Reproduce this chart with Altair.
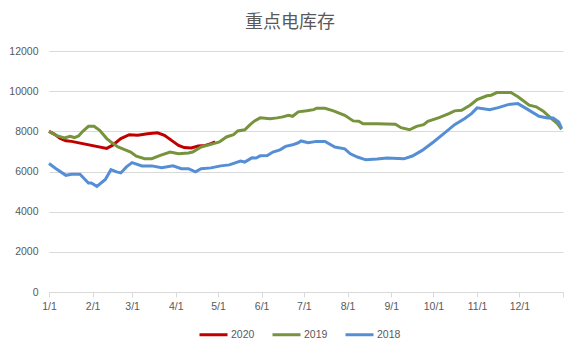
import altair as alt
import pandas as pd

# ---- data (day of year index, value) ----
days_2020 = [0, 4, 8, 12, 16, 41, 45, 51, 57, 63, 70, 77, 82, 87, 92, 96, 101, 106, 111, 115, 118]
vals_2020 = [8000, 7850, 7650, 7530, 7500, 7150, 7300, 7640, 7830, 7800, 7880, 7930, 7800, 7550,
             7300, 7190, 7170, 7270, 7300, 7390, 7480]

days_2019 = [0, 6, 11, 15, 18, 21, 24, 28, 32, 36, 41, 44, 49, 55, 58, 62, 68, 73, 79, 86,
             92, 99, 102, 108, 115, 121, 126, 131, 134, 139, 143, 146, 150, 157, 162, 166, 170, 173, 177, 183,
             188, 190, 196, 202, 210, 216, 220, 223, 233, 246, 250, 256, 261, 266, 269, 277, 284, 288, 293, 299,
             304, 311, 314, 318, 328, 333, 341, 346, 351, 356, 361, 364]
vals_2019 = [8000, 7770, 7670, 7750, 7690, 7770, 8000, 8250, 8250, 8050, 7640, 7470, 7220, 7050, 6970, 6760,
             6640, 6640, 6800, 6970, 6890, 6920, 6970, 7220, 7350, 7470, 7720, 7830, 8020, 8080, 8350, 8520,
             8670, 8630, 8670, 8720, 8800, 8750, 8970, 9020, 9080, 9150, 9150, 9020, 8800, 8520, 8500, 8380,
             8380, 8350, 8180, 8080, 8250, 8330, 8500, 8680, 8880, 9020, 9050, 9300, 9580, 9770, 9800, 9930,
             9930, 9720, 9300, 9220, 9000, 8680, 8380, 8100]

days_2018 = [0, 5, 12, 16, 22, 28, 30, 34, 40, 44, 48, 51, 55, 59, 66, 73, 80, 88, 94, 99,
             104, 108, 115, 122, 128, 136, 139, 144, 147, 150, 155, 159, 164, 168, 173, 177, 179, 184, 190, 196,
             203, 210, 214, 219, 225, 233, 240, 252, 258, 265, 273, 281, 288, 295, 300, 304, 313, 319, 326, 333,
             339, 348, 354, 358, 362, 364]
vals_2018 = [6400, 6140, 5810, 5860, 5860, 5430, 5430, 5260, 5600, 6090, 5980, 5930, 6230, 6440, 6280, 6280,
             6190, 6280, 6140, 6140, 5980, 6140, 6180, 6280, 6330, 6520, 6470, 6680, 6670, 6780, 6800, 6970,
             7080, 7250, 7330, 7430, 7520, 7430, 7500, 7500, 7220, 7130, 6880, 6720, 6580, 6620, 6670, 6630,
             6770, 7050, 7470, 7920, 8330, 8630, 8880, 9170, 9080, 9180, 9330, 9380, 9130, 8750, 8670, 8670,
             8470, 8150]

series_names = ["2020", "2019", "2018"]
series_colors = ["#C00000", "#77933C", "#558ED5"]

tick_days = [0, 31, 59, 90, 120, 151, 181, 212, 243, 273, 304, 334, 365]
tick_labels = ["1/1", "2/1", "3/1", "4/1", "5/1", "6/1", "7/1", "8/1", "9/1", "10/1", "11/1", "12/1", ""]

y_ticks = [0, 2000, 4000, 6000, 8000, 10000, 12000]

rows = []
for name, ds, vs in [("2020", days_2020, vals_2020), ("2019", days_2019, vals_2019), ("2018", days_2018, vals_2018)]:
    for i, (d, v) in enumerate(zip(ds, vs)):
        rows.append({"day": d, "value": v, "series": name, "order": i})
df = pd.DataFrame(rows)

label_expr = "[" + ",".join("'%s'" % t for t in tick_labels) + "][indexof([" + \
    ",".join(str(t) for t in tick_days) + "], datum.value)]"

FONT = "Liberation Sans"
GRAY = "#595959"
GRID = "#D9D9D9"

chart = alt.Chart(df).mark_line(strokeWidth=3, interpolate="linear").encode(
    x=alt.X("day:Q",
            scale=alt.Scale(domain=[0, 365], nice=False, zero=False),
            axis=alt.Axis(values=tick_days, labelExpr=label_expr, title=None, grid=False,
                          domainColor=GRID, tickColor=GRID, tickSize=5, labelFontSize=10.5,
                          labelColor=GRAY, labelFont=FONT, labelPadding=4, labelFlush=False,
                          labelOverlap=False)),
    y=alt.Y("value:Q",
            scale=alt.Scale(domain=[0, 12000], nice=False),
            axis=alt.Axis(values=y_ticks, format="d", title=None, grid=True, gridColor=GRID,
                          domain=False, ticks=False, labelFontSize=10.5, labelColor=GRAY,
                          labelFont=FONT, labelPadding=11)),
    color=alt.Color("series:N",
                    scale=alt.Scale(domain=series_names, range=series_colors),
                    sort=series_names,
                    legend=alt.Legend(title=None, orient="none", direction="horizontal",
                                      legendX=149, legendY=268, symbolType="stroke",
                                      symbolSize=784, symbolStrokeWidth=3, labelFontSize=10.5,
                                      labelColor=GRAY, labelFont=FONT, labelOffset=2,
                                      columnPadding=11, padding=0)),
    order=alt.Order("order:Q"),
).properties(
    width=514,
    height=241,
    title=alt.TitleParams("重点电库存", font="Noto Sans CJK SC", fontSize=18, fontWeight="normal",
                          color=GRAY, anchor="middle", dx=-16, offset=14),
    autosize=alt.AutoSizeParams(type="none"),
    padding={"left": 49, "top": 51, "right": 15, "bottom": 62},
    background="white",
).configure_view(stroke=None)

chart.save("out.html", embed_options={"renderer": "svg", "actions": False})
